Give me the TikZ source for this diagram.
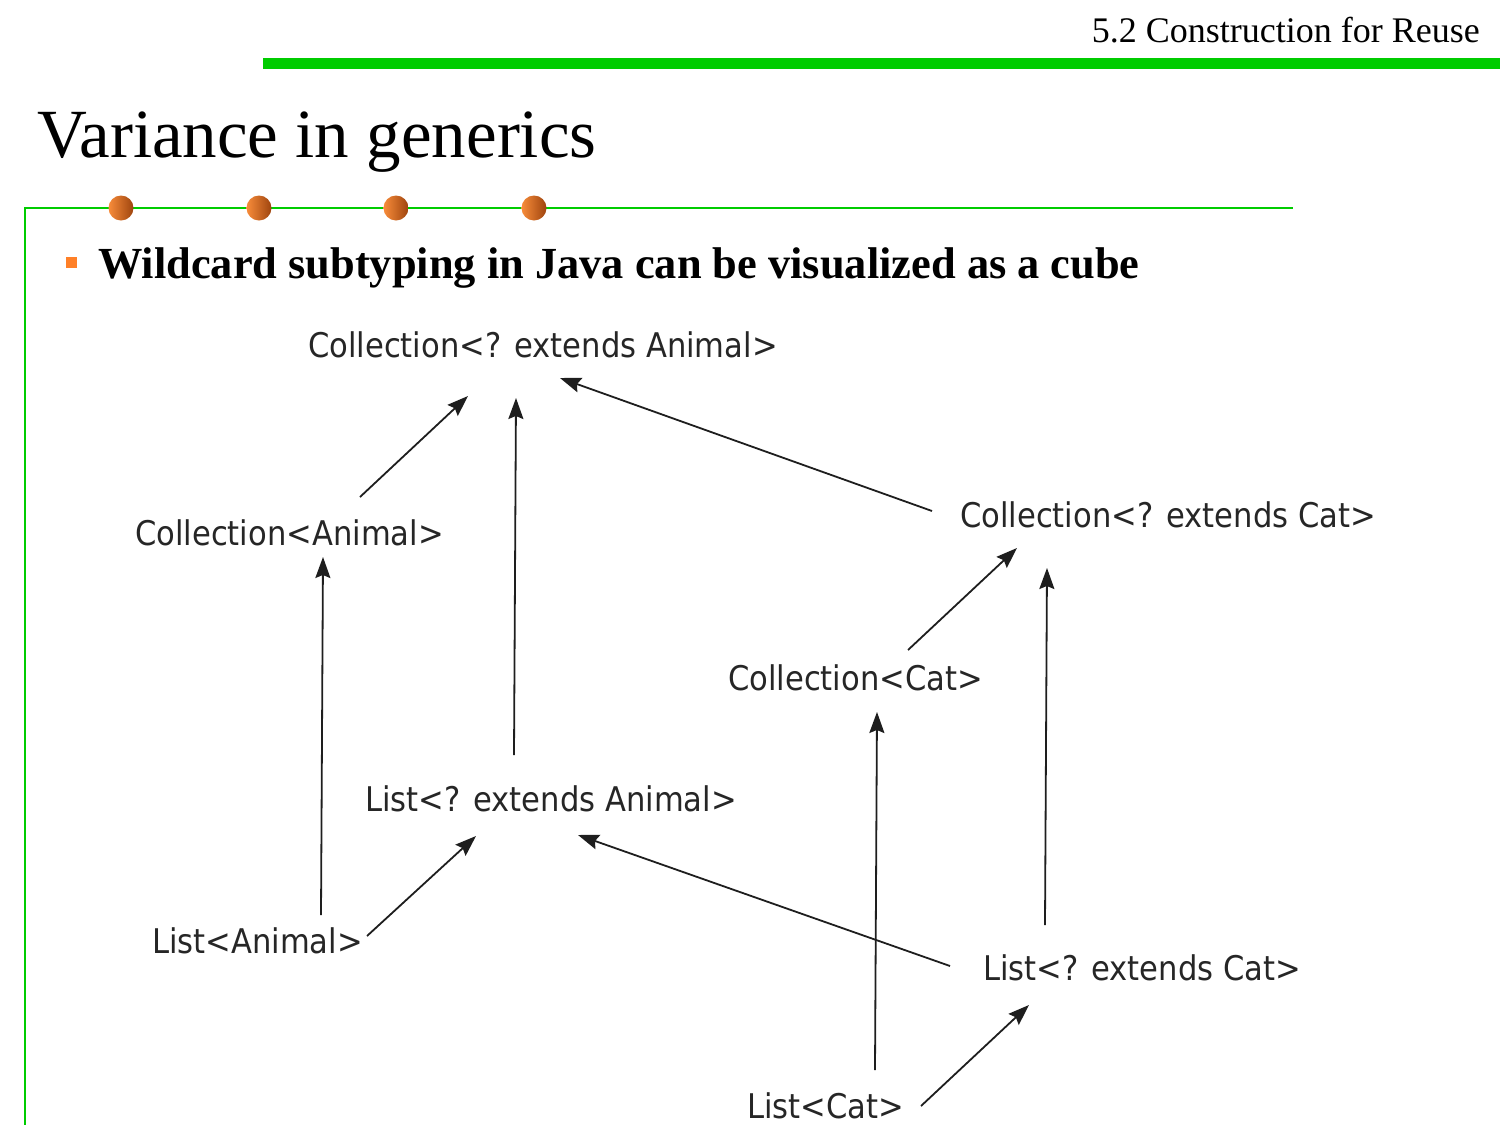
\documentclass[tikz,border=0pt]{standalone}
\usepackage{fontspec}
\setmainfont{Liberation Serif}
\newfontfamily\diagfont[FakeStretch=0.9]{DejaVu Sans}
\usetikzlibrary{arrows.meta,calc}
\definecolor{slgreen}{RGB}{0,204,0}
\definecolor{bulorange}{RGB}{255,128,40}
\definecolor{dotlight}{RGB}{248,140,58}
\definecolor{dotdark}{RGB}{158,68,14}
\definecolor{arrgray}{RGB}{30,30,30}
\tikzset{
  lbl/.style={anchor=base west, inner sep=0pt, font=\diagfont\fontsize{34}{40}\selectfont, text=black!85},
  arr/.style={draw=arrgray, line width=1.8pt, -{Stealth[length=21pt, width=15pt, inset=3pt]}},
  dot/.style={left color=dotlight, right color=dotdark}
}
\begin{document}
\begin{tikzpicture}[x=1pt,y=-1pt]
\useasboundingbox (0,0) rectangle (1500,1125);
% header
\fill[slgreen] (263,58) rectangle (1500,69);
\node[anchor=base east, inner sep=0pt, font=\fontsize{36}{40}\selectfont] (hdr) at (1480,42) {5.2 Construction for Reuse};
% title
\node[anchor=base west, inner sep=0pt, font=\fontsize{69}{75}\selectfont] (title) at (37,157) {Variance in generics};
% frame lines
\draw[slgreen, line width=2pt] (25,1125) -- (25,208) -- (1293,208);
\foreach \x in {121,259,396,534} {
  \shade[dot] (\x,208) ellipse [x radius=12.5, y radius=12.5];
}
% bullet
\fill[bulorange] (66,257) rectangle (77,268);
\node[anchor=base west, inner sep=0pt, font=\bfseries\fontsize{44.4}{50}\selectfont] (bullet) at (98,278) {Wildcard subtyping in Java can be visualized as a cube};
% diagram nodes
\node[lbl] (CA)  at (308,357)  {Collection<? extends Animal>};
\node[lbl] (CoA) at (135,545)  {Collection<Animal>};
\node[lbl] (CeC) at (960,527)  {Collection<? extends Cat>};
\node[lbl] (CC)  at (728,690)  {Collection<Cat>};
\node[lbl] (LeA) at (365,811)  {List<? extends Animal>};
\node[lbl] (LA)  at (152,953)  {List<Animal>};
\node[lbl] (LeC) at (983,980)  {List<? extends Cat>};
\node[lbl] (LC)  at (747,1118) {List<Cat>};
% arrows
\draw[arr] ($(CoA.base west)+(225,-48)$) -- ($(CA.base west)+(160,39)$);
\draw[arr] ($(LeA.base west)+(149,-56)$) -- ($(CA.base west)+(208,41)$);
\draw[arr] ($(CeC.base west)+(-28,-16)$) -- ($(CA.base west)+(252,21)$);
\draw[arr] ($(LA.base west)+(169,-38)$) -- ($(CoA.base west)+(188,12)$);
\draw[arr] ($(CC.base west)+(180,-40)$) -- ($(CeC.base west)+(57,21)$);
\draw[arr] ($(LeC.base west)+(62,-55)$) -- ($(CeC.base west)+(87,41)$);
\draw[arr] ($(LA.base west)+(215,-17)$) -- ($(LeA.base west)+(111,25)$);
\draw[arr] ($(LeC.base west)+(-33,-14)$) -- ($(LeA.base west)+(213,24)$);
\draw[arr] ($(LC.base west)+(128,-48)$) -- ($(CC.base west)+(149,22)$);
\draw[arr] ($(LC.base west)+(174,-12)$) -- ($(LeC.base west)+(46,25)$);
\end{tikzpicture}
\end{document}
